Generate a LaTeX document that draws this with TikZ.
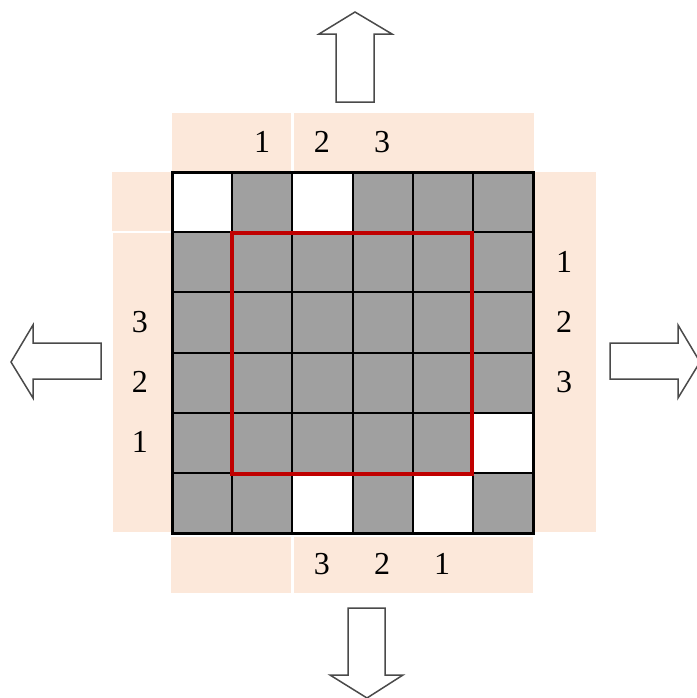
\documentclass[tikz,border=0pt]{standalone}
\usepackage{fontspec}
\setmainfont{Liberation Serif}
\usetikzlibrary{calc}
\definecolor{peach}{HTML}{FCE8DA}
\definecolor{cellgray}{HTML}{A0A0A0}
\definecolor{frame}{HTML}{C00000}
\definecolor{outline}{HTML}{4A4A4A}

\begin{document}
\begin{tikzpicture}[x=0.5pt, y=-0.5pt,
    digit/.style={font=\fontsize{16}{18}\selectfont, inner sep=0pt},
    bigarrow/.style={draw=outline, fill=white, line width=0.75pt, line join=miter}]
  \useasboundingbox (0,0) rectangle (697,698);
  % shaded bands round the board
  \foreach \xa/\ya/\xb/\yb in {172/113/291/171, 294/113/534/171,
      112/172/172/231, 113/233/172/532, 535/172/596/532,
      171/537/291/593, 294/537/533/593} {
    \fill[peach] (\xa,\ya) rectangle (\xb,\yb);
  }
  % board
  \foreach \i in {0,...,5} {
    \foreach \j in {0,...,5} {
      \fill[cellgray, draw=black, line width=1pt]
        (172+60.17*\i, 172+60.17*\j) rectangle ++(60.17,60.17);
    }
  }
  \foreach \i/\j in {0/0, 2/0, 5/4, 2/5, 4/5} {
    \fill[white, draw=black, line width=1pt]
      (172+60.17*\i, 172+60.17*\j) rectangle ++(60.17,60.17);
  }
  \draw[line width=1.5pt] (172,172) rectangle (533,533);
  \draw[frame, line width=2pt] (232,233) rectangle (472,474);
  % labels
  \foreach \n/\x in {1/262, 2/322, 3/382} {
    \node[digit] (t\n) at (\x,142) {\n};
  }
  \foreach \n/\y in {3/322, 2/382, 1/442} {
    \node[digit] (l\n) at (140,\y) {\n};
  }
  \foreach \n/\y in {1/262, 2/322, 3/382} {
    \node[digit] (r\n) at (564,\y) {\n};
  }
  \foreach \n/\x in {3/322, 2/382, 1/442} {
    \node[digit] (b\n) at (\x,564) {\n};
  }
  % block arrows
  \draw[bigarrow] (336,102) -- (336,34) -- (319,34) -- (355,12) -- (392,34)
    -- (374,34) -- (374,102) -- cycle;
  \draw[bigarrow] (348,608) -- (385,608) -- (385,675) -- (403,675) -- (367,698)
    -- (330,675) -- (348,675) -- cycle;
  \draw[bigarrow] (101,343) -- (33,343) -- (33,325) -- (11,362) -- (33,398)
    -- (33,379) -- (101,379) -- cycle;
  \draw[bigarrow] (610,343) -- (678,343) -- (678,325) -- (700,362) -- (678,398)
    -- (678,379) -- (610,379) -- cycle;
\end{tikzpicture}
\end{document}
